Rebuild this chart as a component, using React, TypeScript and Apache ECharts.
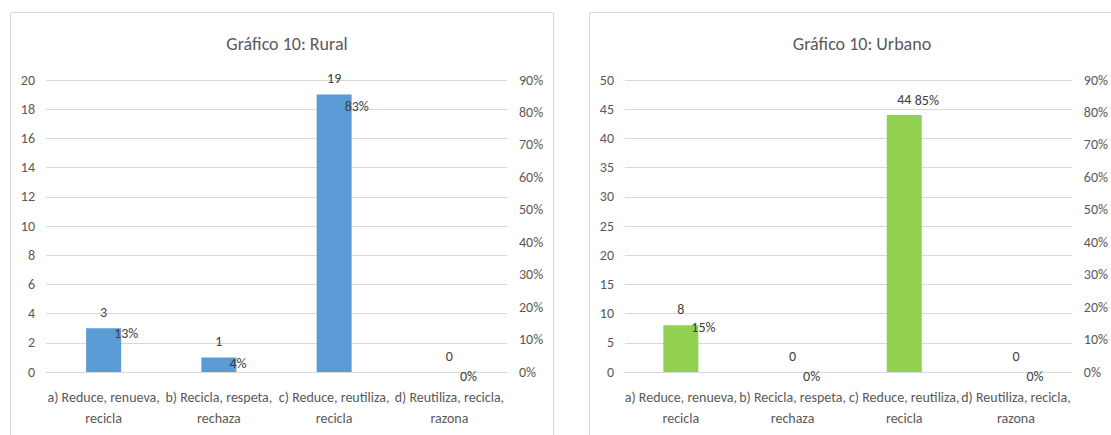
import React, { useEffect, useRef } from "react";
import * as echarts from "echarts";

// Answer options shared by both panels
const categories = [
  "a) Reduce, renueva,\nrecicla",
  "b) Recicla, respeta,\nrechaza",
  "c) Reduce, reutiliza,\nrecicla",
  "d) Reutiliza, recicla,\nrazona",
];

// Rural: counts and share (%)
const ruralCounts = [3, 1, 19, 0];
const ruralPercent = [13, 4, 83, 0];

// Urbano: counts and share (%)
const urbanCounts = [8, 0, 44, 0];
const urbanPercent = [15, 0, 85, 0];

const titles = ["Gráfico 10: Rural", "Gráfico 10: Urbano"];

const FONT = "Carlito, 'Liberation Sans Narrow', 'DejaVu Sans Condensed', sans-serif";
const AXIS_TEXT = "#595959";
const LABEL_TEXT = "#404040";
const GRID_LINE = "#d9d9d9";

export default function App() {
  const ref = useRef<HTMLDivElement>(null);

  useEffect(() => {
    if (!ref.current) return;
    const chart = echarts.init(ref.current, undefined, { renderer: "svg" });

    const grids = [
      { left: 46, right: 604, top: 80, bottom: 63 },
      { left: 625, right: 33, top: 80, bottom: 63 },
    ];

    const xAxis = [0, 1].map((i) => ({
      type: "category" as const,
      gridIndex: i,
      data: categories,
      axisLine: { lineStyle: { color: GRID_LINE } },
      axisTick: { show: false },
      axisLabel: {
        interval: 0,
        color: AXIS_TEXT,
        fontFamily: FONT,
        fontSize: 14,
        lineHeight: 21,
        margin: 15,
      },
    }));

    const countAxis = (grid: number, max: number, interval: number) => ({
      type: "value" as const,
      gridIndex: grid,
      min: 0,
      max,
      interval,
      axisLine: { show: false },
      axisTick: { show: false },
      splitLine: { lineStyle: { color: GRID_LINE } },
      axisLabel: { color: AXIS_TEXT, fontFamily: FONT, fontSize: 14, margin: 11 },
    });

    const pctAxis = (grid: number) => ({
      type: "value" as const,
      gridIndex: grid,
      position: "right" as const,
      min: 0,
      max: 90,
      interval: 10,
      axisLine: { show: false },
      axisTick: { show: false },
      splitLine: { show: false },
      axisLabel: {
        color: AXIS_TEXT,
        fontFamily: FONT,
        fontSize: 14,
        margin: 12,
        formatter: "{value}%",
      },
    });

    const barSeries = (idx: number, data: number[], color: string) => ({
      type: "bar" as const,
      xAxisIndex: idx,
      yAxisIndex: idx * 2,
      data,
      barWidth: 35,
      itemStyle: { color },
      label: {
        show: true,
        position: "top" as const,
        distance: 9,
        color: LABEL_TEXT,
        fontFamily: FONT,
        fontSize: 14,
      },
    });

    const pctSeries = (idx: number, data: number[]) => ({
      type: "line" as const,
      xAxisIndex: idx,
      yAxisIndex: idx * 2 + 1,
      data,
      symbol: "circle",
      symbolSize: 1,
      itemStyle: { color: "rgba(0,0,0,0)" },
      lineStyle: { opacity: 0 },
      label: {
        show: true,
        position: "right" as const,
        distance: 10,
        offset: [0, 4],
        color: LABEL_TEXT,
        fontFamily: FONT,
        fontSize: 14,
        formatter: "{c}%",
      },
    });

    const titleStyle = {
      color: AXIS_TEXT,
      fontFamily: FONT,
      fontSize: 18,
      fontWeight: "normal" as const,
    };

    chart.setOption({
      animation: false,
      backgroundColor: "#ffffff",
      title: [
        { text: titles[0], left: 282, top: 30, textAlign: "center", textStyle: titleStyle },
        { text: titles[1], left: 857, top: 30, textAlign: "center", textStyle: titleStyle },
      ],
      graphic: [
        {
          type: "rect",
          shape: { x: 10.5, y: 12.5, width: 543, height: 440 },
          style: { fill: "none", stroke: GRID_LINE, lineWidth: 1 },
          silent: true,
        },
        {
          type: "rect",
          shape: { x: 589.5, y: 12.5, width: 560, height: 440 },
          style: { fill: "none", stroke: GRID_LINE, lineWidth: 1 },
          silent: true,
        },
      ],
      grid: grids,
      xAxis,
      yAxis: [countAxis(0, 20, 2), pctAxis(0), countAxis(1, 50, 5), pctAxis(1)],
      series: [
        barSeries(0, ruralCounts, "#5B9BD5"),
        pctSeries(0, ruralPercent),
        barSeries(1, urbanCounts, "#92D050"),
        pctSeries(1, urbanPercent),
      ],
    });

    return () => chart.dispose();
  }, []);

  return (
    <div
      ref={ref}
      style={{ position: "fixed", left: 0, top: 0, width: 1111, height: 435, background: "#fff" }}
    />
  );
}
